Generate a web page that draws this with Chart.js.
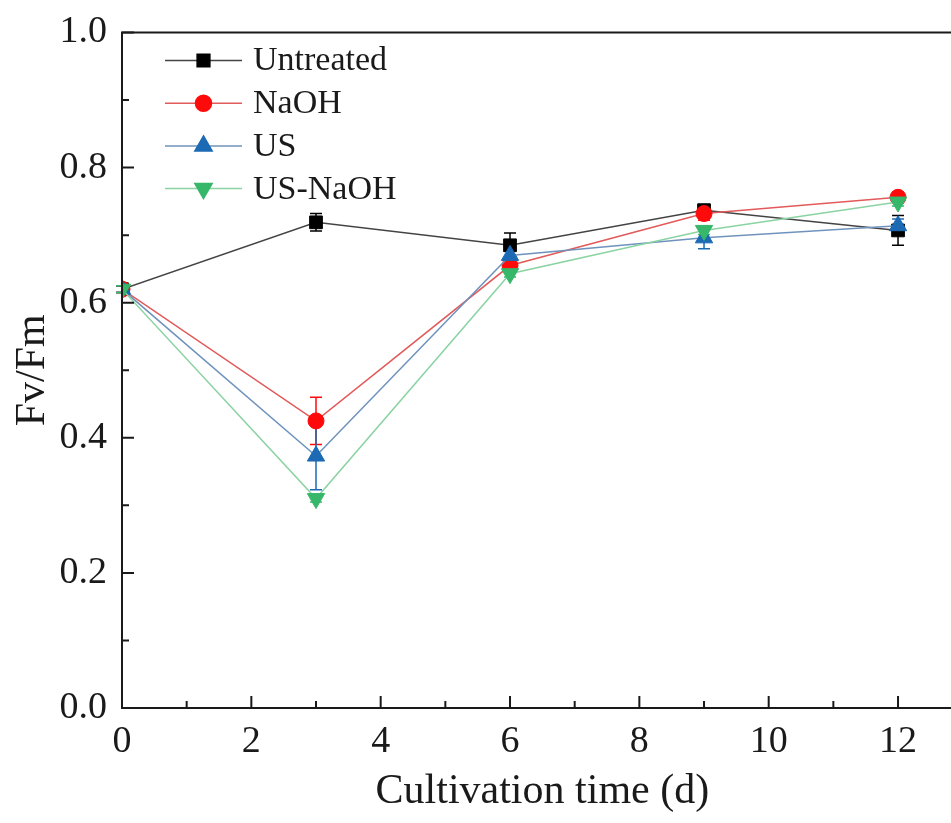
<!DOCTYPE html>
<html>
<head>
<meta charset="utf-8">
<script src="https://cdn.jsdelivr.net/npm/chart.js@4.4.1/dist/chart.umd.min.js"></script>
<style>
  html, body { margin: 0; padding: 0; background: #fff; overflow: hidden; }
  #wrap { position: absolute; left: 0; top: 0; width: 970px; height: 823px; }
</style>
</head>
<body>
<div id="wrap"><canvas id="myChart"></canvas></div>
<script>
// cultivation time (d)
const days = [0, 3, 6, 9, 12]

const untreated = [0.62, 0.719, 0.685, 0.737, 0.707]
const untreatedErr = [0.005, 0.013, 0.018, 0.005, 0.022]
const naoh = [0.62, 0.425, 0.655, 0.732, 0.756]
const naohErr = [0.005, 0.035, 0.008, 0.01, 0.008]
const us = [0.62, 0.373, 0.670, 0.696, 0.714]
const usErr = [0.005, 0.05, 0.01, 0.016, 0.01]
const usNaoh = [0.62, 0.31, 0.643, 0.707, 0.749]
const usNaohErr = [0.005, 0.005, 0.005, 0.006, 0.006]

const xTicks = [0, 2, 4, 6, 8, 10, 12]
const xMinor = [1, 3, 5, 7, 9, 11]
const yTicks = [0, 0.2, 0.4, 0.6, 0.8, 1.0]
const yMinor = [0.1, 0.3, 0.5, 0.7, 0.9]

const serif = "'Liberation Serif', 'Times New Roman', serif"
const ink = "#1a1a1a"

function series(label, values, errs, color, lineColor, style, radius, rotation, order) {
  return {
    label: label,
    data: days.map((d, i) => ({x: d, y: values[i]})),
    errors: errs,
    borderColor: lineColor,
    backgroundColor: color,
    pointBackgroundColor: color,
    pointBorderColor: color,
    pointBorderWidth: 1,
    pointStyle: style,
    pointRadius: radius,
    pointRotation: rotation,
    borderWidth: 1.5,
    tension: 0,
    order: order
  }
}

const datasets = [
  series("Untreated", untreated, untreatedErr, "#000000", "#444444", "rect", 9, 0, 3),
  series("NaOH", naoh, naohErr, "#ff0a0a", "#e25a5a", "circle", 8, 0, 2),
  series("US", us, usErr, "#1c6ab4", "#6f93bd", "triangle", 10, 0, 1),
  series("US-NaOH", usNaoh, usNaohErr, "#36b76a", "#8cd3a3", "triangle", 10, 180, 0)
]

// error bars from the dataset's own errors, through the scales
const errorBars = {
  id: "errorBars",
  beforeDatasetsDraw(chart) {
    const ctx = chart.ctx
    const xs = chart.scales.x, ys = chart.scales.y
    chart.data.datasets.forEach(ds => {
      ctx.save()
      ctx.strokeStyle = ds.pointBackgroundColor
      ctx.lineWidth = 1.5
      ds.data.forEach((p, i) => {
        const e = ds.errors[i]
        const px = xs.getPixelForValue(p.x)
        const top = ys.getPixelForValue(p.y + e)
        const bot = ys.getPixelForValue(p.y - e)
        ctx.beginPath()
        ctx.moveTo(px, top); ctx.lineTo(px, bot)
        ctx.moveTo(px - 6, top); ctx.lineTo(px + 6, top)
        ctx.moveTo(px - 6, bot); ctx.lineTo(px + 6, bot)
        ctx.stroke()
      })
      ctx.restore()
    })
  }
}

// frame and inward ticks
const frame = {
  id: "frame",
  afterDraw(chart) {
    const ctx = chart.ctx
    const a = chart.chartArea
    const xs = chart.scales.x, ys = chart.scales.y
    ctx.save()
    ctx.strokeStyle = ink
    ctx.lineWidth = 2
    ctx.strokeRect(a.left, a.top, a.right - a.left, a.bottom - a.top)
    ctx.beginPath()
    xTicks.forEach(v => { const p = xs.getPixelForValue(v); ctx.moveTo(p, a.bottom); ctx.lineTo(p, a.bottom - 12) })
    xMinor.forEach(v => { const p = xs.getPixelForValue(v); ctx.moveTo(p, a.bottom); ctx.lineTo(p, a.bottom - 7) })
    yTicks.forEach(v => { const p = ys.getPixelForValue(v); ctx.moveTo(a.left, p); ctx.lineTo(a.left + 12, p) })
    yMinor.forEach(v => { const p = ys.getPixelForValue(v); ctx.moveTo(a.left, p); ctx.lineTo(a.left + 7, p) })
    ctx.stroke()
    ctx.restore()
  }
}

// legend inside the plot, line with marker
const insideLegend = {
  id: "insideLegend",
  afterDraw(chart) {
    const ctx = chart.ctx
    const a = chart.chartArea
    ctx.save()
    chart.data.datasets.forEach((ds, i) => {
      const y = a.top + 28 + i * 42.7
      const x0 = a.left + 43, x1 = a.left + 120
      ctx.strokeStyle = ds.borderColor
      ctx.lineWidth = 1.5
      ctx.beginPath(); ctx.moveTo(x0, y); ctx.lineTo(x1, y); ctx.stroke()
      ctx.fillStyle = ds.pointBackgroundColor
      ctx.strokeStyle = ds.pointBorderColor
      Chart.helpers.drawPoint(ctx, {pointStyle: ds.pointStyle, radius: ds.pointRadius, rotation: ds.pointRotation, borderWidth: 1}, (x0 + x1) / 2, y)
      ctx.fillStyle = ink
      ctx.font = "34px " + serif
      ctx.textBaseline = "middle"
      ctx.textAlign = "left"
      ctx.fillText(ds.label, a.left + 131, y + 1)
    })
    ctx.restore()
  }
}

new Chart(document.getElementById("myChart"), {
  type: "line",
  data: {datasets: datasets},
  plugins: [errorBars, frame, insideLegend],
  options: {
    responsive: true,
    maintainAspectRatio: false,
    animation: false,
    layout: {autoPadding: false, padding: {top: 32.5, right: 7.3, left: 0, bottom: 0}},
    plugins: {legend: {display: false}, tooltip: {enabled: false}},
    scales: {
      x: {
        type: "linear",
        min: 0,
        max: 13,
        afterBuildTicks: s => { s.ticks = xTicks.map(v => ({value: v})) },
        afterFit: s => { s.height = 115; s.paddingLeft = 0; s.paddingRight = 0 },
        grid: {display: false, drawTicks: false},
        border: {display: false},
        ticks: {color: ink, padding: 11, font: {family: serif, size: 38}},
        title: {display: true, text: "Cultivation time (d)", color: ink, padding: {top: 0, bottom: 6}, font: {family: serif, size: 42}}
      },
      y: {
        min: 0,
        max: 1,
        afterBuildTicks: s => { s.ticks = yTicks.map(v => ({value: v})) },
        afterFit: s => { s.width = 122; s.paddingTop = 0; s.paddingBottom = 0 },
        grid: {display: false, drawTicks: false},
        border: {display: false},
        ticks: {color: ink, padding: 15, font: {family: serif, size: 38}, callback: v => v.toFixed(1)},
        title: {display: true, text: "Fv/Fm", color: ink, padding: {top: 8, bottom: 0}, font: {family: serif, size: 42}}
      }
    }
  }
});
</script>
</body>
</html>
